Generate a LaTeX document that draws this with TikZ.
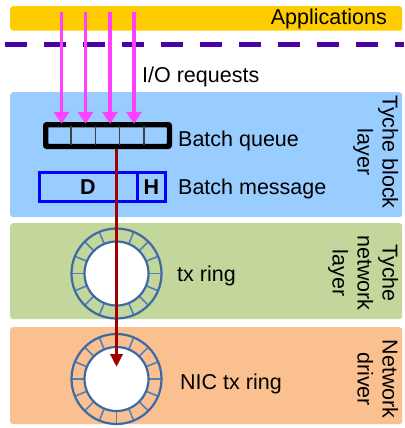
\documentclass[tikz,border=0pt]{standalone}
\usepackage{fontspec}
\setmainfont{Liberation Sans}
\usetikzlibrary{arrows.meta,calc}

\definecolor{appyellow}{HTML}{FFCC00}
\definecolor{boundary}{HTML}{4C00A8}
\definecolor{reqpink}{HTML}{FF40FF}
\definecolor{blocklayer}{HTML}{99CCFF}
\definecolor{netlayer}{HTML}{C3D69B}
\definecolor{drvlayer}{HTML}{FAC090}
\definecolor{flowred}{HTML}{A00000}
\definecolor{ringedge}{HTML}{3D6AA5}
\definecolor{ringtick}{HTML}{4F81BD}

\tikzset{
  layerbox/.style={draw=none, rounded corners=3pt, anchor=north west, inner sep=0pt},
  label/.style={anchor=base west, inner sep=0pt},
  sidelabel/.style={anchor=north, rotate=-90, align=center, inner sep=0pt},
  request/.style={draw=reqpink, line width=3.5pt, -{Triangle[width=15pt,length=12pt]}},
  flow/.style={draw=flowred, line width=3.5pt, -{Triangle[width=12pt,length=13pt]}},
  queuebox/.style={draw=black, line width=3.5pt, rounded corners=2pt, minimum width=122pt, minimum height=20pt, inner sep=0pt},
  msgbox/.style={draw=blue, line width=3pt, minimum width=126pt, minimum height=29pt, inner sep=0pt},
}

\begin{document}
\begin{tikzpicture}[x=1pt, y=-1pt, font=\fontsize{21.5}{25}\selectfont]
\useasboundingbox (0,0) rectangle (404,428);

% layers
\node[layerbox, fill=appyellow, minimum width=392pt, minimum height=24.5pt] (apps) at (10,6) {};
\node[layerbox, fill=blocklayer, minimum width=392pt, minimum height=125pt] (block) at (10,92) {};
\node[layerbox, fill=netlayer, minimum width=392pt, minimum height=96pt] (net) at (10,223) {};
\node[layerbox, fill=drvlayer, minimum width=392pt, minimum height=97pt] (drv) at (10,327) {};

% user / kernel boundary
\coordinate (bl) at (5,44.5);
\coordinate (br) at (404,44.5);
\draw[boundary, line width=4.5pt, dash pattern=on 22pt off 17pt] (bl) -- (br);

% labels
\node[anchor=base east, inner sep=0pt] (appstext) at (387,25) {Applications};
\node[label] (iotext) at (142,82) {I/O requests};
\node[label] (bqtext) at (178,146) {Batch queue};
\node[label] (bmtext) at (178,194) {Batch message};
\node[label] (txtext) at (177,281) {tx ring};
\node[label] (nictext) at (180,389) {NIC tx ring};

\node[sidelabel] (blocklbl) at (398.5,152) {Tyche block\\layer};
\node[sidelabel] (netlbl) at (398.5,273) {Tyche\\network\\layer};
\node[sidelabel] (drvlbl) at (398.5,379) {Network\\driver};

% batch queue with five slots
\node[queuebox] (queue) at (107.5,135.5) {};
\foreach \cx in {70.9,95.3,119.7,144.1}
  \draw[black!75, line width=1.3pt] (\cx,126) -- (\cx,145);
\draw[black, line width=3.5pt, rounded corners=2pt] (queue.north west) rectangle (queue.south east);

% batch message: data part and header
\node[msgbox] (msg) at (102.5,187) {};
\draw[blue, line width=3pt] (137,172.5) -- (137,201.5);
\node[font=\fontsize{21.5}{25}\selectfont\bfseries, inner sep=0pt] (dpart) at (88,187) {D};
\node[font=\fontsize{21.5}{25}\selectfont\bfseries, inner sep=0pt] (hpart) at (151.5,187) {H};

% rings
\foreach \cy/\nm in {273.5/txring, 379/nicring}{
  \coordinate (\nm) at (116.5,\cy);
  \fill[white] (\nm) circle[radius=32];
  \foreach \a in {0,22.5,...,337.5}
    \draw[ringtick, line width=1.6pt] ($(\nm)+(\a:32)$) -- ($(\nm)+(\a:45)$);
  \draw[ringedge, line width=2.2pt] (\nm) circle[radius=45];
  \draw[ringedge, line width=2.2pt] (\nm) circle[radius=32];
}

% I/O requests entering the batch queue
\foreach \rx [count=\i] in {61.5,85.5,110,134}{
  \coordinate (req\i) at (\rx,12);
  \draw[request] (req\i) -- (req\i |- queue.north);
}

% data path down to the NIC
\coordinate (flowtop) at (116.5,149);
\coordinate (flowend) at (116.5,367);
\draw[flow] (flowtop) -- (flowend);
\end{tikzpicture}
\end{document}
